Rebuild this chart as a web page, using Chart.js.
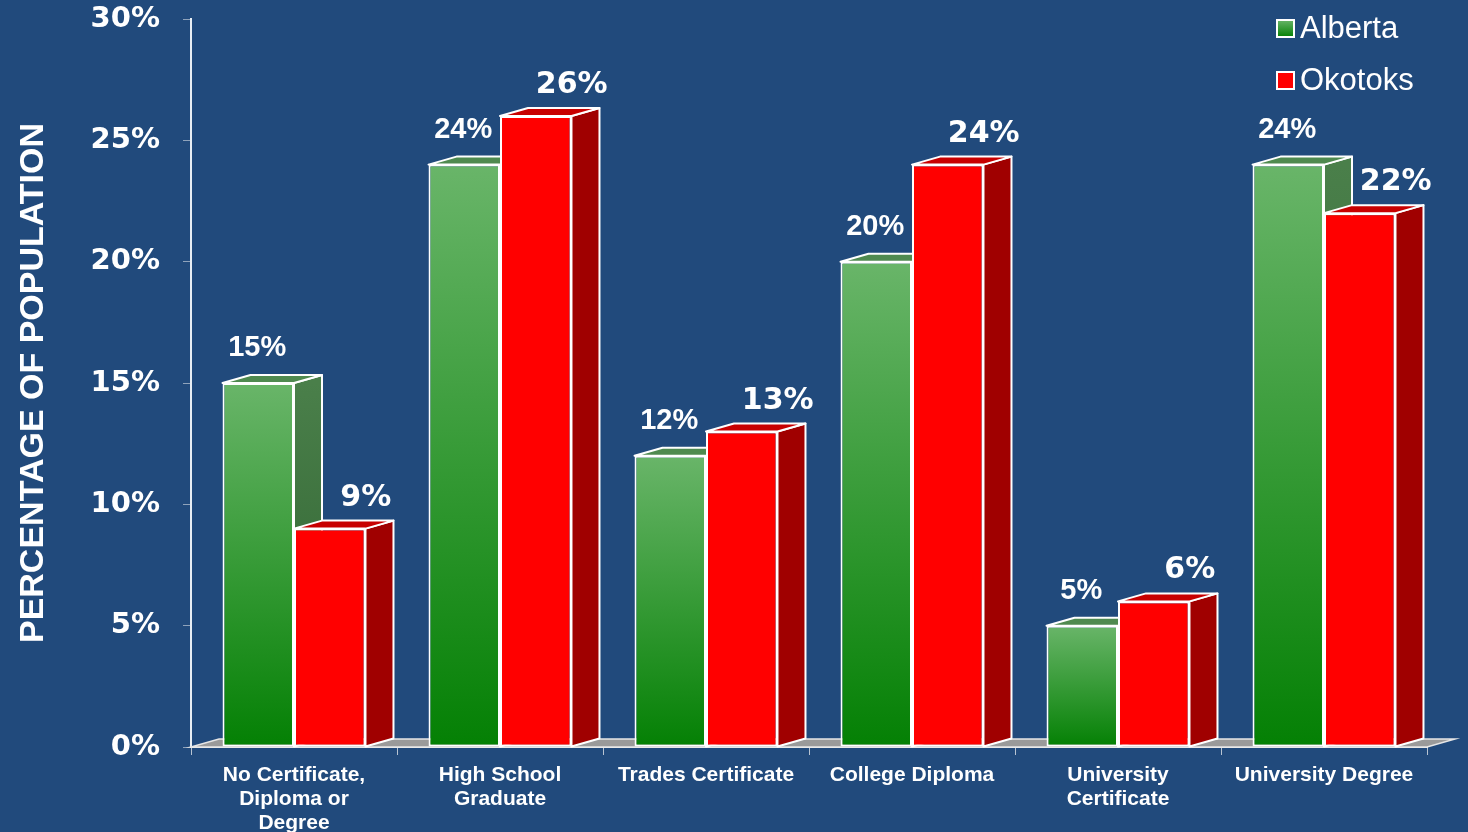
<!DOCTYPE html>
<html>
<head>
<meta charset="utf-8">
<title>Education levels</title>
<script src="https://cdn.jsdelivr.net/npm/chart.js@4.4.1/dist/chart.umd.min.js"></script>
<style>
    body { margin: 0; background: #214a7c; }
    #wrap { width: 1468px; height: 832px; }
</style>
</head>
<body>
<div id="wrap"><canvas id="chart" width="1468" height="832"></canvas></div>
<script>
categories = [
    ["No Certificate,", "Diploma or", "Degree"],
    ["High School", "Graduate"],
    "Trades Certificate",
    "College Diploma",
    ["University", "Certificate"],
    "University Degree"
];
seriesNames = ["Alberta", "Okotoks"];
alberta = [15, 24, 12, 20, 5, 24];
okotoks = [9, 26, 13, 24, 6, 22];
yTickValues = [0, 5, 10, 15, 20, 25, 30];

// depth of the fake 3d extrusion
DX = 28;
DY = 8;

function greenFront(ctx, top, bottom) {
    g = ctx.createLinearGradient(0, top, 0, bottom);
    g.addColorStop(0, '#69b569');
    g.addColorStop(1, '#048004');
    return g;
}

function greenSide(ctx, top, bottom) {
    g = ctx.createLinearGradient(0, top, 0, bottom);
    g.addColorStop(0, '#4a7f4a');
    g.addColorStop(1, '#2b5f2d');
    return g;
}

const faces = [
    { side: greenSide, top: '#4f8a4f' },
    { side: '#a00000', top: '#c80000' }
];

function drawFaces(chart, index) {
    const ctx = chart.ctx;
    const meta = chart.getDatasetMeta(index);
    const f = faces[index];
    ctx.save();
    ctx.strokeStyle = '#ffffff';
    ctx.lineWidth = 2;
    ctx.lineJoin = 'round';
    meta.data.forEach(bar => {
        const l = bar.x - bar.width / 2, r = bar.x + bar.width / 2;
        const t = bar.y, b = bar.base;
        // side face
        ctx.beginPath();
        ctx.moveTo(r, t);
        ctx.lineTo(r + DX, t - DY);
        ctx.lineTo(r + DX, b - DY);
        ctx.lineTo(r, b);
        ctx.closePath();
        ctx.fillStyle = typeof f.side === 'function' ? f.side(ctx, t, b) : f.side;
        ctx.fill();
        ctx.stroke();
        // top face
        ctx.beginPath();
        ctx.moveTo(l, t);
        ctx.lineTo(l + DX, t - DY);
        ctx.lineTo(r + DX, t - DY);
        ctx.lineTo(r, t);
        ctx.closePath();
        ctx.fillStyle = f.top;
        ctx.fill();
        ctx.stroke();
    });
    ctx.restore();
}

const bars3d = {
    id: 'bars3d',
    beforeDatasetsDraw(chart) {
        const ctx = chart.ctx;
        const a = chart.chartArea;
        // grey floor
        ctx.save();
        ctx.beginPath();
        ctx.moveTo(a.left, a.bottom);
        ctx.lineTo(a.left + DX, a.bottom - DY);
        ctx.lineTo(a.right + DX, a.bottom - DY);
        ctx.lineTo(a.right, a.bottom);
        ctx.closePath();
        ctx.fillStyle = '#9a9a9a';
        ctx.fill();
        ctx.strokeStyle = '#e6e6e6';
        ctx.lineWidth = 1.5;
        ctx.stroke();
        ctx.restore();
        // back series faces go under the front series bars
        drawFaces(chart, 0);
    },
    afterDatasetsDraw(chart) {
        drawFaces(chart, 1);
        const ctx = chart.ctx;
        ctx.save();
        ctx.fillStyle = '#ffffff';
        ctx.textAlign = 'center';
        ctx.textBaseline = 'alphabetic';
        chart.getDatasetMeta(0).data.forEach((bar, i) => {
            ctx.font = 'bold 29px "Liberation Sans", Arial, sans-serif';
            ctx.fillText(alberta[i] + '%', bar.x - 1, bar.y - 27);
        });
        chart.getDatasetMeta(1).data.forEach((bar, i) => {
            ctx.font = 'bold 30px "DejaVu Sans", sans-serif';
            ctx.fillText(okotoks[i] + '%', bar.x + 36, bar.y - 23);
        });
        ctx.restore();
    },
    afterDraw(chart) {
        // legend in the top right corner
        const ctx = chart.ctx;
        const x = 1277, y0 = 20, step = 52, box = 17;
        ctx.save();
        ctx.font = '31px "Liberation Sans", Arial, sans-serif';
        ctx.textBaseline = 'middle';
        ctx.textAlign = 'left';
        seriesNames.forEach((name, i) => {
            const y = y0 + i * step;
            ctx.fillStyle = i == 0 ? greenFront(ctx, y, y + box) : '#ff0000';
            ctx.fillRect(x, y, box, box);
            ctx.strokeStyle = '#ffffff';
            ctx.lineWidth = 2;
            ctx.strokeRect(x, y, box, box);
            ctx.fillStyle = '#ffffff';
            ctx.fillText(name, x + 23, y + box / 2 + 1);
        });
        ctx.restore();
    }
};

ctx = document.getElementById('chart');

chart = new Chart(ctx, {
    type: 'bar',
    data: {
        labels: categories,
        datasets: [{
            label: seriesNames[0],
            data: alberta,
            backgroundColor: (c) => {
                const ch = c.chart;
                if (!ch.chartArea) return '#2e8b2e';
                const s = ch.scales.y;
                return greenFront(ch.ctx, s.getPixelForValue(c.raw), s.getPixelForValue(0));
            },
            borderColor: '#ffffff',
            borderWidth: 2,
            borderSkipped: false,
            categoryPercentage: 0.694,
            barPercentage: 1.0
        }, {
            label: seriesNames[1],
            data: okotoks,
            backgroundColor: '#ff0000',
            borderColor: '#ffffff',
            borderWidth: 2,
            borderSkipped: false,
            categoryPercentage: 0.694,
            barPercentage: 1.0
        }]
    },
    options: {
        responsive: false,
        animation: false,
        layout: {
            padding: { top: 19, right: 41, left: 0, bottom: 0 }
        },
        scales: {
            x: {
                grid: {
                    drawOnChartArea: false,
                    drawTicks: true,
                    tickLength: 8,
                    color: '#b8c4d2',
                    offset: true
                },
                border: { color: '#f0f0f0', width: 2 },
                ticks: {
                    color: '#ffffff',
                    padding: 8,
                    maxRotation: 0,
                    autoSkip: false,
                    font: { family: '"Liberation Sans", Arial, sans-serif', size: 21, weight: 'bold', lineHeight: '24px' }
                },
                afterFit: (axis) => {
                    axis.height = 85;
                    axis.paddingLeft = 0;
                    axis.paddingRight = 0;
                }
            },
            y: {
                min: 0,
                max: 30,
                afterBuildTicks: (axis) => {
                    axis.ticks = yTickValues.map(v => ({ value: v }));
                },
                grid: {
                    drawOnChartArea: false,
                    drawTicks: true,
                    tickLength: 8,
                    color: '#8fa3bb'
                },
                border: { color: '#e8eef4', width: 2 },
                ticks: {
                    color: '#ffffff',
                    padding: 23,
                    callback: (v) => v + '%',
                    font: { family: '"DejaVu Sans", sans-serif', size: 29, weight: 'bold' }
                },
                title: {
                    display: true,
                    text: 'PERCENTAGE OF POPULATION',
                    color: '#ffffff',
                    padding: { top: 13, bottom: 0 },
                    font: { family: '"Liberation Sans", Arial, sans-serif', size: 34, weight: 'bold' }
                },
                afterFit: (axis) => {
                    axis.width = 191;
                    axis.paddingTop = 0;
                    axis.paddingBottom = 0;
                }
            }
        },
        plugins: {
            legend: { display: false },
            tooltip: { enabled: false }
        }
    },
    plugins: [bars3d]
});
</script>
</body>
</html>
